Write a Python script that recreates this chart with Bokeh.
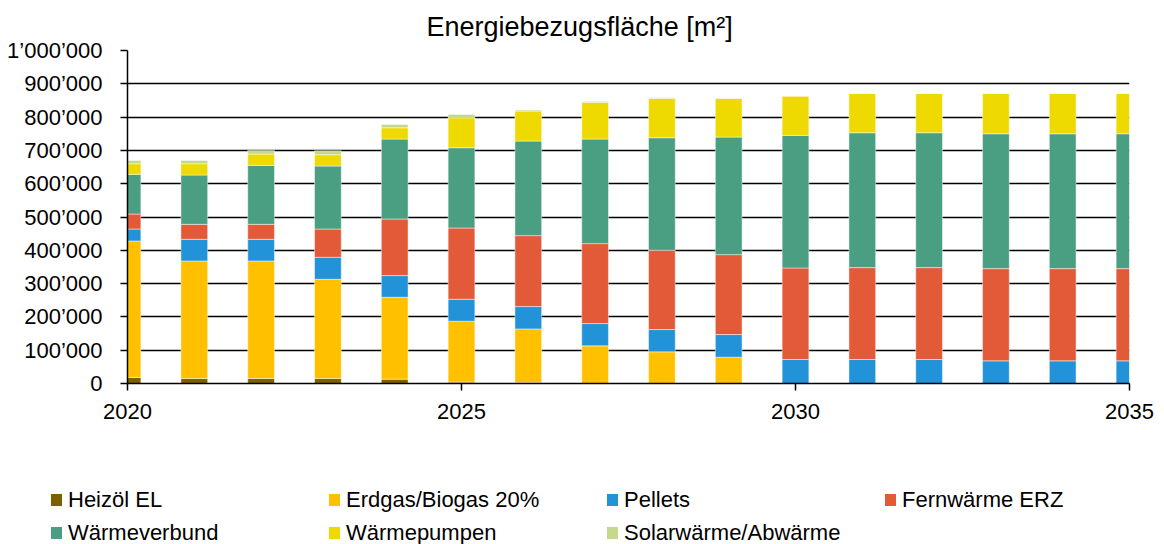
from bokeh.plotting import figure
from bokeh.layouts import column
from bokeh.models import FixedTicker, Range1d, ColumnDataSource, Div
from bokeh.embed import file_html
from bokeh.resources import INLINE

years = list(range(2020, 2036))
heizoel = [18000, 15000, 15000, 15000, 13000, 4000, 3000, 0, 0, 0, 0, 0, 0, 0, 0, 0]
erdgas = [410000, 353000, 353000, 298000, 246000, 183000, 161000, 113000, 95000, 79000, 0, 0, 0, 0, 0, 0]
pellets = [36000, 65000, 65000, 66000, 65000, 66000, 67000, 67000, 67000, 68000, 72000, 72000, 72000, 68000, 68000, 68000]
fernwaerme = [45000, 45000, 45000, 85000, 170000, 214000, 213000, 240000, 238000, 240000, 275000, 276000, 276000, 277000, 277000, 277000]
waermeverbund = [119000, 148000, 177000, 189000, 240000, 241000, 284000, 314000, 338000, 353000, 398000, 405000, 405000, 405000, 405000, 405000]
waermepumpen = [32000, 34000, 34000, 34000, 34000, 90000, 90000, 110000, 118000, 116000, 118000, 118000, 118000, 121000, 121000, 121000]
solar = [10000, 10000, 11000, 12000, 10000, 10000, 3000, 3000, 2000, 1000, 0, 0, 0, 0, 0, 0]

series_names = ["Heizöl EL", "Erdgas/Biogas 20%", "Pellets", "Fernwärme ERZ",
                "Wärmeverbund", "Wärmepumpen", "Solarwärme/Abwärme"]
series_keys = ["heizoel", "erdgas", "pellets", "fernwaerme", "waermeverbund", "waermepumpen", "solar"]
colors = ["#7F6000", "#FFC000", "#2393D9", "#E35A38", "#4A9E82", "#EEDA00", "#C4D98B"]

x_ticks = [2020, 2025, 2030, 2035]
y_ticks = [0, 100000, 200000, 300000, 400000, 500000, 600000, 700000, 800000, 900000, 1000000]
y_tick_labels = ["0", "100’000", "200’000", "300’000", "400’000", "500’000",
                 "600’000", "700’000", "800’000", "900’000", "1’000’000"]
title_text = "Energiebezugsfläche [m²]"

source = ColumnDataSource(data=dict(
    year=years, heizoel=heizoel, erdgas=erdgas, pellets=pellets, fernwaerme=fernwaerme,
    waermeverbund=waermeverbund, waermepumpen=waermepumpen, solar=solar))

FONT = "Liberation Sans"

p = figure(frame_width=1002, frame_height=333,
           min_border_left=127, min_border_right=35, min_border_top=50, min_border_bottom=60,
           x_range=Range1d(2020, 2035), y_range=Range1d(0, 1000000),
           output_backend="svg", toolbar_location=None, title=title_text)

renderers = p.vbar_stack(series_keys, x="year", width=0.4, source=source,
                         fill_color=colors, line_color="white", line_alpha=0.45, line_width=1)

p.title.text_font = FONT
p.title.text_font_size = "27px"
p.title.text_font_style = "normal"
p.title.text_color = "black"
p.title.align = "left"
p.title.offset = 299
p.title.standoff = 17

p.outline_line_color = None
p.background_fill_color = "white"
p.border_fill_color = "white"

p.xgrid.visible = False
p.ygrid.ticker = FixedTicker(ticks=y_ticks)
p.ygrid.grid_line_color = "black"
p.ygrid.grid_line_width = 1.5

p.xaxis.ticker = FixedTicker(ticks=x_ticks)
p.yaxis.ticker = FixedTicker(ticks=y_ticks)
p.yaxis.major_label_overrides = {t: l for t, l in zip(y_ticks, y_tick_labels)}

for ax in (p.xaxis, p.yaxis):
    ax.axis_line_color = "black"
    ax.axis_line_width = 1.5
    ax.major_tick_line_color = "black"
    ax.major_tick_line_width = 1.5
    ax.major_tick_in = 0
    ax.major_tick_out = 7
    ax.minor_tick_line_color = None
    ax.major_label_text_font = FONT
    ax.major_label_text_font_size = "22px"
    ax.major_label_text_color = "black"

p.xaxis.major_label_standoff = 13
p.yaxis.major_label_standoff = 18

# legend (4 columns, 2 rows) below the chart
col_left = [51, 329, 607, 885]
row_center = [57, 90]
parts = ['<div style="position:relative;width:1164px;height:100px;">']
for i, (name, c) in enumerate(zip(series_names, colors)):
    x = col_left[i % 4]
    y = row_center[i // 4] - 13
    parts.append(
        f'<div style="position:absolute;left:{x}px;top:{y}px;height:26px;line-height:26px;'
        f'white-space:nowrap;font-family:\'{FONT}\';font-size:22px;color:#000;">'
        f'<span style="display:inline-block;width:11px;height:12px;background:{c};'
        f'margin-right:6px;vertical-align:middle;position:relative;top:-1px;"></span>{name}</div>')
parts.append('</div>')
legend_div = Div(text="".join(parts), width=1164, height=100, margin=0)

layout = column(p, legend_div, spacing=0)

open("out.html", "w").write(file_html(layout, INLINE))
